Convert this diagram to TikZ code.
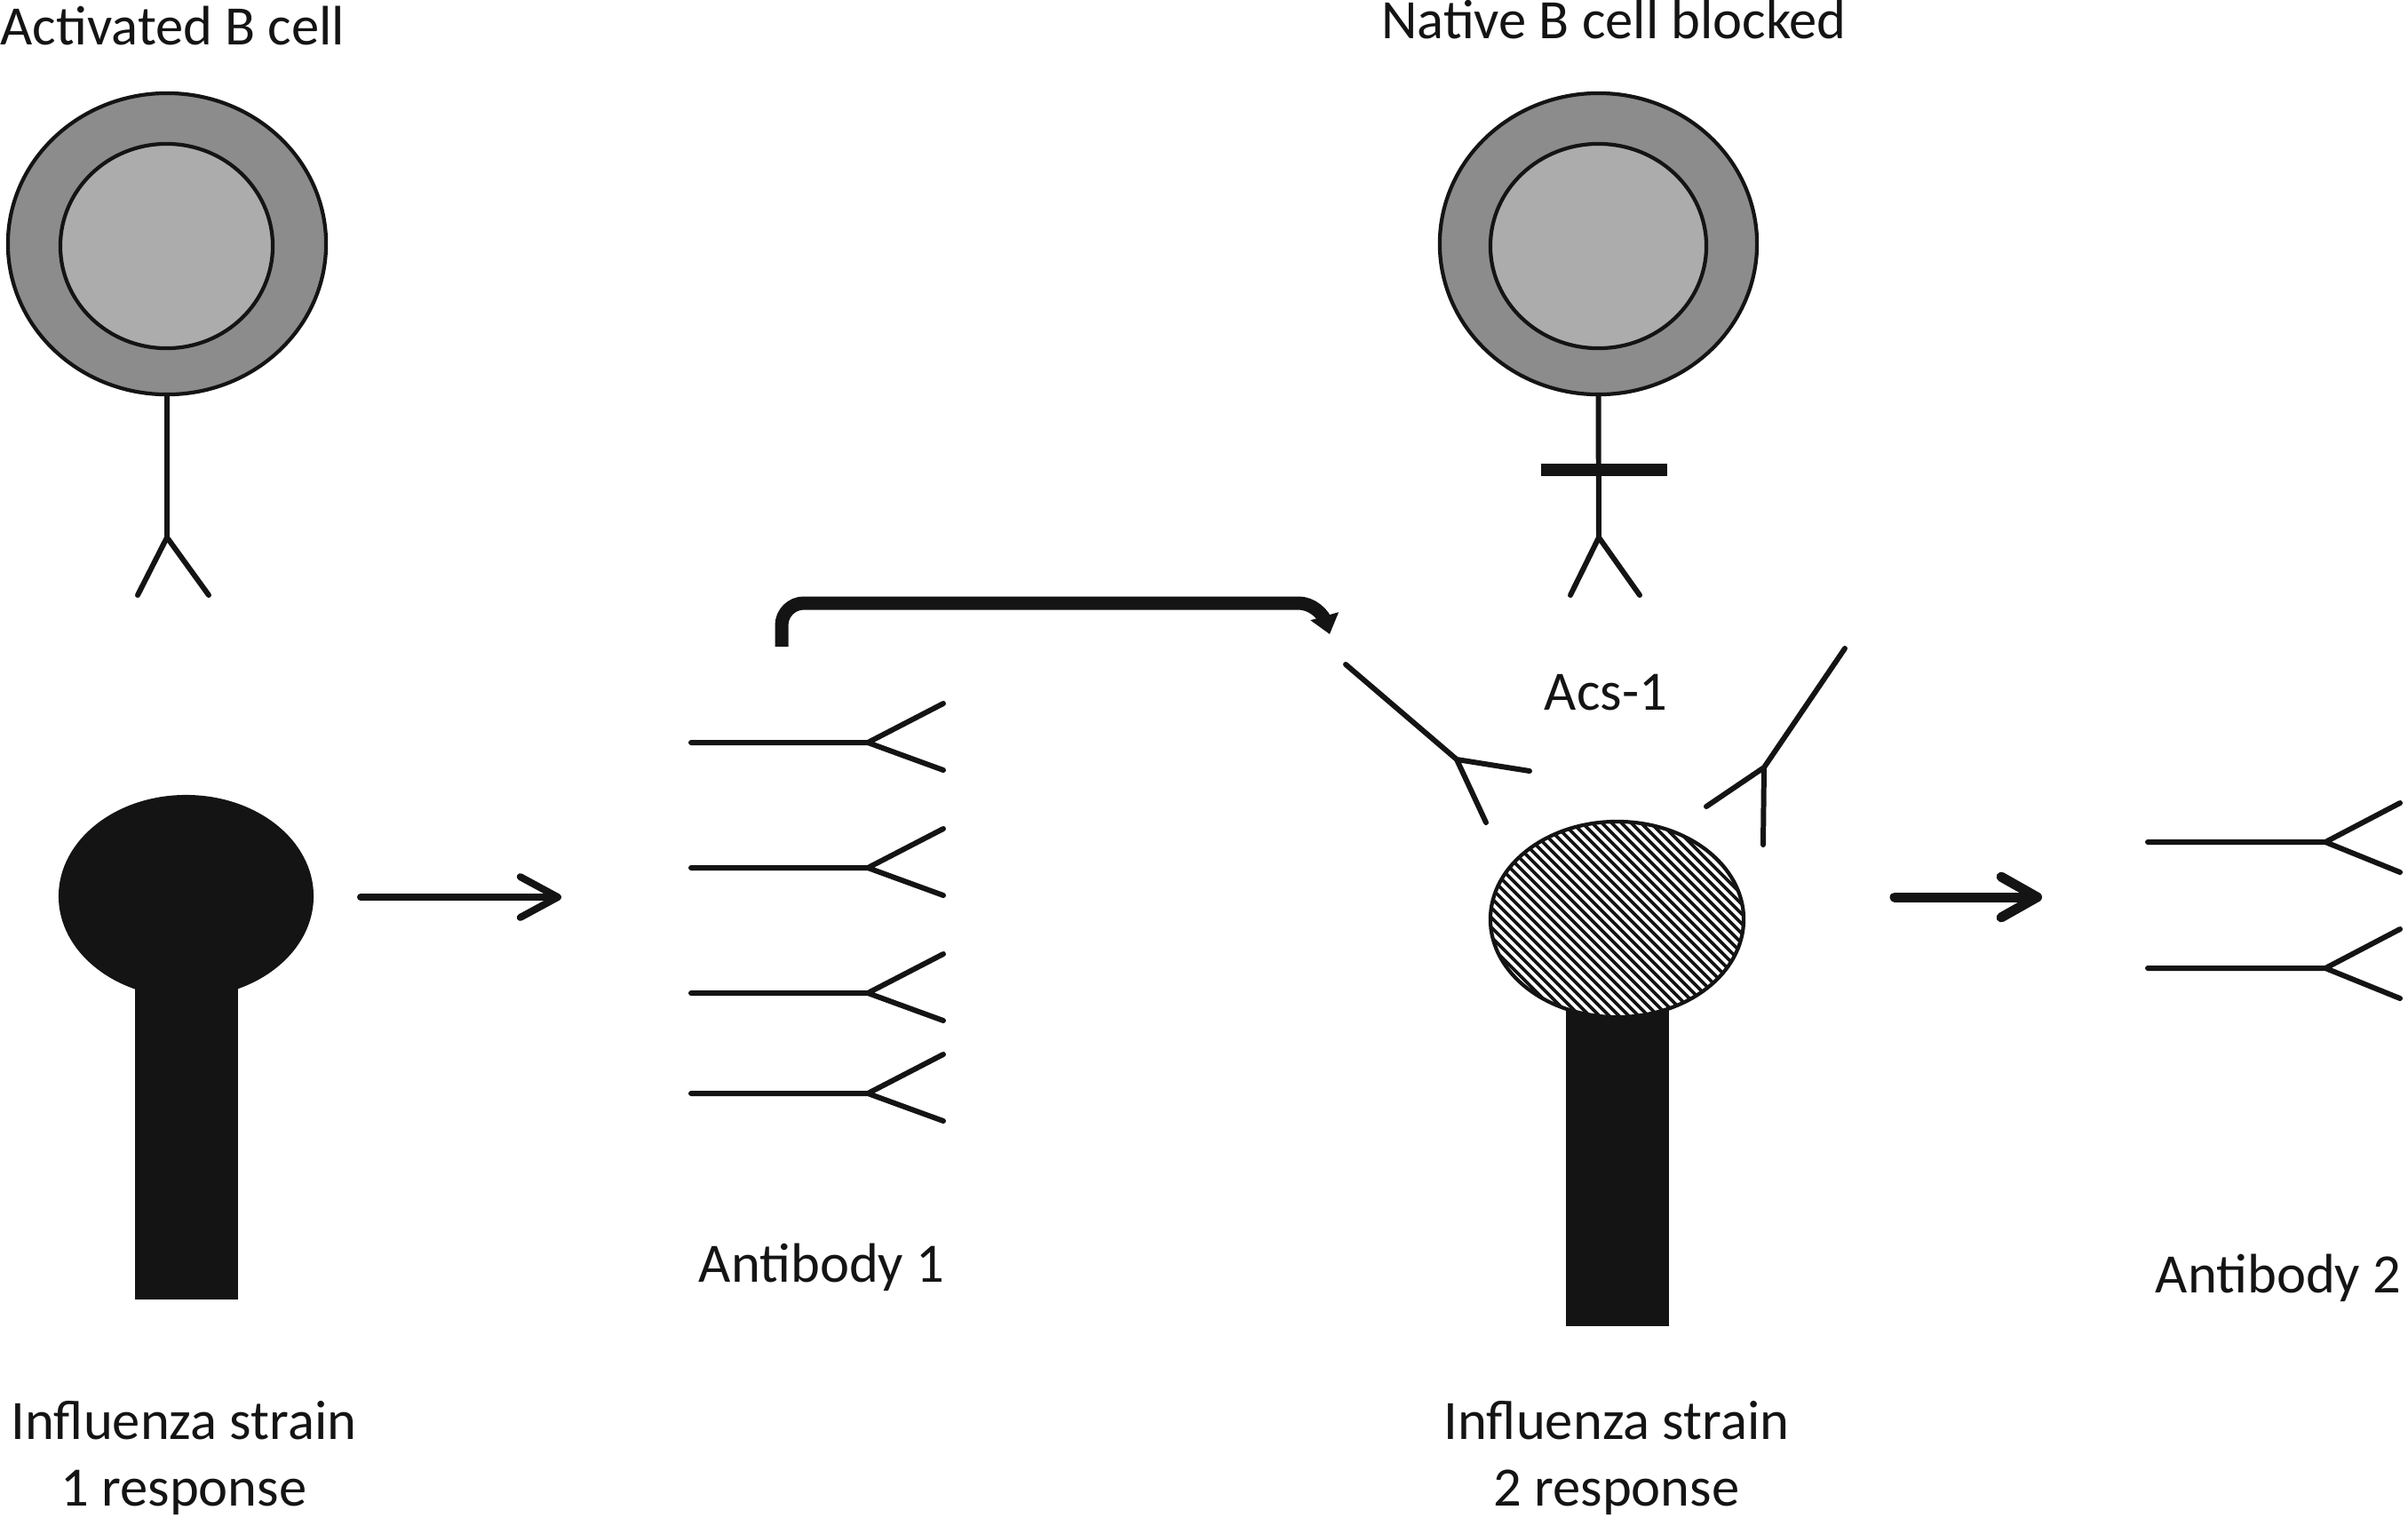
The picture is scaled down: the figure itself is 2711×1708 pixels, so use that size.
\documentclass[tikz,border=0pt]{standalone}
\usepackage{fontspec}
\setmainfont{Carlito}
\usetikzlibrary{shapes.geometric,arrows.meta}
\definecolor{cellouter}{HTML}{8C8C8C}
\definecolor{cellinner}{HTML}{ACACAC}
\definecolor{ink}{HTML}{141414}
\begin{document}
\begin{tikzpicture}[x=0.01cm, y=-0.01cm,
  lbl/.style={font=\fontsize{17.8}{21.3}\selectfont, inner sep=0pt, text=ink},
  outercell/.style={ellipse, draw=ink, line width=1.2pt, fill=cellouter, inner sep=0pt},
  innercell/.style={ellipse, draw=ink, line width=1.2pt, fill=cellinner, inner sep=0pt},
  abline/.style={draw=ink, line width=1.7pt, line cap=round, line join=miter},
  blackbar/.style={fill=ink, inner sep=0pt, outer sep=0pt},
  flowarrow/.style={draw=ink, line cap=round}
]
\useasboundingbox (0,0) rectangle (2711,1708);

% ---------- B cells ----------
\node[outercell, minimum width=3.58cm, minimum height=3.39cm] (bcell1) at (188,274.5) {};
\node[innercell, minimum width=2.39cm, minimum height=2.30cm] (nuc1) at (187.5,277) {};
\coordinate (fork1) at (188,605);
\draw[abline] (bcell1.south) -- (fork1) -- (155,670) (fork1) -- (235,670);

\node[outercell, minimum width=3.57cm, minimum height=3.39cm] (bcell2) at (1799.5,274.5) {};
\node[innercell, minimum width=2.43cm, minimum height=2.30cm] (nuc2) at (1799.5,277) {};
\coordinate (fork2) at (1800,605);
\draw[abline] (bcell2.south) -- (fork2) -- (1768,670) (fork2) -- (1846,670);
\node[blackbar, minimum width=1.41cm, minimum height=0.14cm] (block) at (1806,529) {};

% ---------- Influenza strain 1 ----------
\node[blackbar, minimum width=1.16cm, minimum height=3.93cm, anchor=north] (stem1) at (210,1070) {};
\node[ellipse, blackbar, minimum width=2.87cm, minimum height=2.28cm] (strain1) at (209.5,1009) {};

% ---------- Influenza strain 2 ----------
\node[blackbar, minimum width=1.16cm, minimum height=3.93cm, anchor=north] (stem2) at (1821,1100) {};
\begin{scope}
  \clip (1820.5,1035) ellipse [x radius=142.5, y radius=110];
  \fill[white] (1670,915) rectangle (1970,1155);
  \foreach \k in {0,...,50}
    \draw[ink, line width=1.1pt] (1425+\k*11,900) -- ++(260,260);
\end{scope}
\node[ellipse, draw=ink, line width=1.2pt, inner sep=0pt, minimum width=2.85cm, minimum height=2.2cm] (strain2) at (1820.5,1035) {};

% ---------- Antibody 1 group ----------
\foreach \yy in {836,977,1118,1231}
  \draw[abline] (778,\yy) -- (977,\yy) -- (1062,\yy-44) (977,\yy) -- (1062,\yy+31);

% ---------- Antibody 2 group ----------
\foreach \yy in {948,1090}
  \draw[abline] (2418,\yy) -- (2618,\yy) -- (2702,\yy-44) (2618,\yy) -- (2702,\yy+34);

% ---------- Acs-1 antibodies ----------
\coordinate (acsfork1) at (1640,855);
\draw[abline] (1515,748) -- (acsfork1) -- (1722,868) (acsfork1) -- (1673,926);
\coordinate (acsfork2) at (1986,864);
\draw[abline] (2077,730) -- (acsfork2) -- (1921,908) (acsfork2) -- (1985,951);

% ---------- Arrows ----------
\coordinate (a1s) at (406,1010);
\coordinate (a1e) at (632,1010);
\draw[flowarrow, line width=2.28pt, -{Straight Barb[length=12pt,width=13pt,round]}] (a1s) -- (a1e);

\coordinate (a2s) at (2133,1010);
\coordinate (a2e) at (2299,1010);
\draw[flowarrow, line width=3.13pt, -{Straight Barb[length=11.5pt,width=13pt,round]}] (a2s) -- (a2e);

\coordinate (bstart) at (880,728);
\coordinate (bcorner) at (1487,679);
\coordinate (btip) at (1497,714);
\draw[ink, line width=4.27pt, rounded corners=0.25cm, -{Triangle[length=6pt,width=9pt]}] (bstart) |- (bcorner) -- (btip);

% ---------- Labels ----------
\node[lbl, anchor=base west] (tact) at (0,50) {Activated B cell};
\node[lbl, anchor=base] (tnat) at (1817,43) {Native B cell blocked};
\node[lbl, anchor=base] (tacs) at (1808,799) {Acs-1};
\node[lbl, anchor=base] (tab1) at (925,1443) {Antibody 1};
\node[lbl, anchor=base] (tab2) at (2565,1455) {Antibody 2};
\node[lbl, anchor=base] (ts1a) at (207,1620) {Influenza strain};
\node[lbl, anchor=base] (ts1b) at (207,1695) {1 response};
\node[lbl, anchor=base] (ts2a) at (1820,1620) {Influenza strain};
\node[lbl, anchor=base] (ts2b) at (1820,1695) {2 response};
\end{tikzpicture}
\end{document}
